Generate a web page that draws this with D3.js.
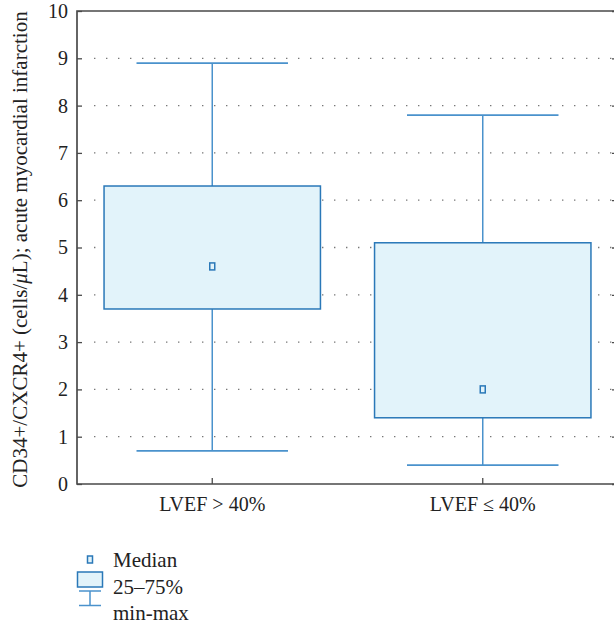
<!DOCTYPE html>
<html>
<head>
<meta charset="utf-8">
<script src="https://cdn.jsdelivr.net/npm/d3@7/dist/d3.min.js"></script>
<style>
  html, body { margin: 0; padding: 0; background: #fff; }
  svg { display: block; }
  text { font-family: "Liberation Serif", "Times New Roman", serif; fill: #222; }
</style>
</head>
<body>
<svg id="chart" width="614" height="625"></svg>
<script>
// Box-plot summaries per LVEF group
const groups = ["LVEF > 40%", "LVEF \u2264 40%"];
const minVals = [0.7, 0.4];
const q1Vals = [3.7, 1.4];
const medianVals = [4.6, 2.0];
const q3Vals = [6.3, 5.1];
const maxVals = [8.9, 7.8];
const yTicks = [0, 1, 2, 3, 4, 5, 6, 7, 8, 9, 10];
const legendItems = ["Median", "25\u201375%", "min-max"];

const svg = d3.select("#chart");
const margin = { left: 77, top: 11 };
const plotW = 541, plotH = 473;

const boxStroke = "#2a78b8";
const whiskerStroke = "#4a92cc";
const boxFill = "#e2f3fa";
const axisColor = "#4a4a4a";

const x = d3.scaleBand().domain(groups).range([0, plotW]).paddingInner(0).paddingOuter(0);
const y = d3.scaleLinear().domain([0, 10]).range([plotH, 0]);

const g = svg.append("g").attr("transform", `translate(${margin.left},${margin.top})`);

// dotted horizontal grid
g.append("g").selectAll("line")
  .data(yTicks.filter(t => t > 0 && t < 10))
  .join("line")
  .attr("x1", 17).attr("x2", plotW)
  .attr("y1", d => y(d)).attr("y2", d => y(d))
  .attr("stroke", "#777").attr("stroke-width", 1.3)
  .attr("stroke-dasharray", "1.4,10.6");

const data = groups.map((k, i) => ({
  key: k, min: minVals[i], q1: q1Vals[i], med: medianVals[i], q3: q3Vals[i], max: maxVals[i]
}));

const boxW = x.bandwidth() * 0.8;
const capW = x.bandwidth() * 0.56;

const boxes = g.append("g").selectAll("g").data(data).join("g")
  .attr("transform", d => `translate(${x(d.key) + x.bandwidth() / 2},0)`);

// whiskers
boxes.append("line")
  .attr("x1", 0).attr("x2", 0)
  .attr("y1", d => y(d.max)).attr("y2", d => y(d.q3))
  .attr("stroke", whiskerStroke).attr("stroke-width", 1.5);
boxes.append("line")
  .attr("x1", 0).attr("x2", 0)
  .attr("y1", d => y(d.q1)).attr("y2", d => y(d.min))
  .attr("stroke", whiskerStroke).attr("stroke-width", 1.5);
boxes.append("line")
  .attr("x1", -capW / 2).attr("x2", capW / 2)
  .attr("y1", d => y(d.max)).attr("y2", d => y(d.max))
  .attr("stroke", whiskerStroke).attr("stroke-width", 1.8);
boxes.append("line")
  .attr("x1", -capW / 2).attr("x2", capW / 2)
  .attr("y1", d => y(d.min)).attr("y2", d => y(d.min))
  .attr("stroke", whiskerStroke).attr("stroke-width", 1.8);

// interquartile box
boxes.append("rect")
  .attr("x", -boxW / 2).attr("width", boxW)
  .attr("y", d => y(d.q3)).attr("height", d => y(d.q1) - y(d.q3))
  .attr("fill", boxFill).attr("stroke", boxStroke).attr("stroke-width", 1.5);

// median marker
boxes.append("rect")
  .attr("x", -2.5).attr("width", 5)
  .attr("y", d => y(d.med) - 3.5).attr("height", 7)
  .attr("fill", boxFill).attr("stroke", boxStroke).attr("stroke-width", 1.5);

// frame: left, bottom, top
g.append("path")
  .attr("d", `M${plotW + 10},0 H0 V${plotH} H${plotW + 10}`)
  .attr("fill", "none").attr("stroke", axisColor).attr("stroke-width", 1.7);

// left axis with inward ticks
const yAxis = g.append("g").call(
  d3.axisLeft(y).tickValues(yTicks).tickSize(-5).tickPadding(9).tickFormat(d3.format("d"))
);
yAxis.select(".domain").remove();
yAxis.attr("font-family", null);
yAxis.selectAll(".tick line").attr("stroke", axisColor).attr("stroke-width", 1.3);
yAxis.selectAll(".tick text").attr("font-size", 20).attr("fill", "#222");

// right side inward ticks (frame edge lies just past the view)
const rightTicks = g.append("g").attr("transform", `translate(${plotW + 3},0)`).call(
  d3.axisRight(y).tickValues(yTicks).tickSize(-9).tickFormat("")
);
rightTicks.select(".domain").remove();
rightTicks.selectAll(".tick line").attr("stroke", axisColor).attr("stroke-width", 1.3);

// bottom axis with inward ticks
const xAxis = g.append("g").attr("transform", `translate(0,${plotH})`).call(
  d3.axisBottom(x).tickSize(-6).tickPadding(13)
);
xAxis.select(".domain").remove();
xAxis.attr("font-family", null);
xAxis.selectAll(".tick line").attr("stroke", axisColor).attr("stroke-width", 1.3);
xAxis.selectAll(".tick text").attr("font-size", 20).attr("fill", "#222");

// y-axis title
const yTitle = svg.append("text")
  .attr("transform", `translate(27,${margin.top + plotH / 2 + 2}) rotate(-90)`)
  .attr("text-anchor", "middle")
  .attr("font-size", 21);
yTitle.append("tspan").text("CD34+/CXCR4+ (cells/");
yTitle.append("tspan").attr("font-style", "italic").text("\u03bc");
yTitle.append("tspan").text("L); acute myocardial infarction");

// legend
const lg = svg.append("g");
const lx = 90;
lg.append("rect").attr("x", lx - 2.5).attr("y", 556).attr("width", 5).attr("height", 7)
  .attr("fill", boxFill).attr("stroke", boxStroke).attr("stroke-width", 1.5);
lg.append("rect").attr("x", lx - 12.5).attr("y", 572).attr("width", 25).attr("height", 15)
  .attr("fill", boxFill).attr("stroke", boxStroke).attr("stroke-width", 1.5);
lg.append("line").attr("x1", lx - 11).attr("x2", lx + 11).attr("y1", 591).attr("y2", 591)
  .attr("stroke", whiskerStroke).attr("stroke-width", 1.5);
lg.append("line").attr("x1", lx).attr("x2", lx).attr("y1", 591).attr("y2", 605.5)
  .attr("stroke", whiskerStroke).attr("stroke-width", 1.5);
lg.append("line").attr("x1", lx - 11).attr("x2", lx + 11).attr("y1", 605.5).attr("y2", 605.5)
  .attr("stroke", whiskerStroke).attr("stroke-width", 1.5);

lg.selectAll("text.leg").data(legendItems).join("text")
  .attr("class", "leg")
  .attr("x", 113)
  .attr("y", (d, i) => 567 + i * 26.5)
  .attr("font-size", 21)
  .text(d => d);
</script>
</body>
</html>
